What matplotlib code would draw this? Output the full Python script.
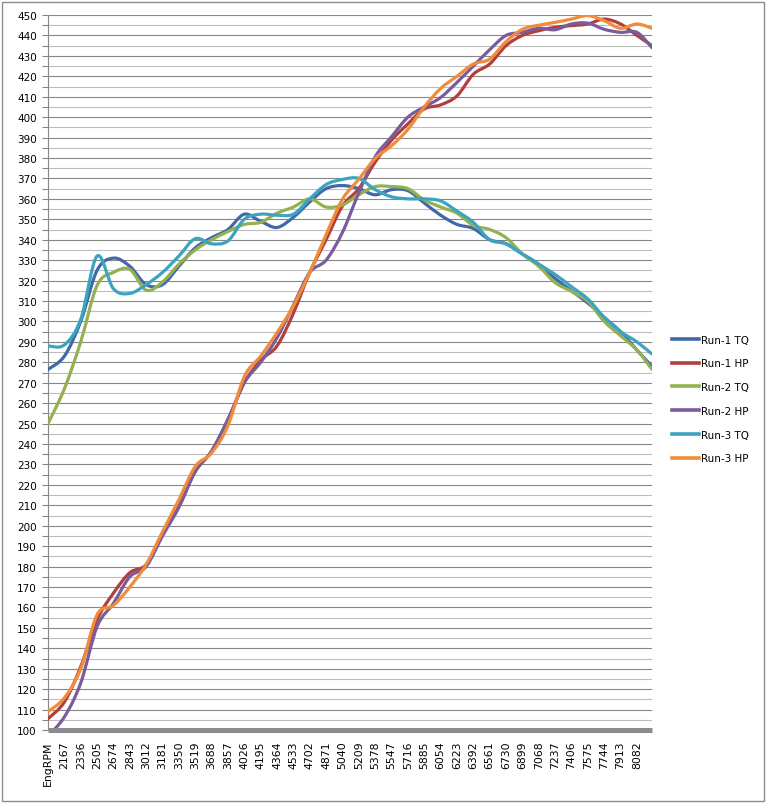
import numpy as np
import matplotlib
matplotlib.use("Agg")
import matplotlib.pyplot as plt
from matplotlib.path import Path
from matplotlib.patches import PathPatch, Rectangle
from matplotlib.lines import Line2D
from matplotlib.ticker import MultipleLocator

# ---------------- data ----------------
rpm = [1998, 2167, 2336, 2505, 2674, 2843, 3012, 3181, 3350, 3519, 3688, 3857,
       4026, 4195, 4364, 4533, 4702, 4871, 5040, 5209, 5378, 5547, 5716, 5885,
       6054, 6223, 6392, 6561, 6730, 6899, 7068, 7237, 7406, 7575, 7744, 7913,
       8082, 8238]
tick_labels = ["EngRPM", "2167", "2336", "2505", "2674", "2843", "3012", "3181",
               "3350", "3519", "3688", "3857", "4026", "4195", "4364", "4533",
               "4702", "4871", "5040", "5209", "5378", "5547", "5716", "5885",
               "6054", "6223", "6392", "6561", "6730", "6899", "7068", "7237",
               "7406", "7575", "7744", "7913", "8082"]

run1_tq = [276.5, 283, 300, 325, 331, 327, 318, 318, 327, 336, 341, 345,
           352.5, 349, 346, 351, 358.5, 365, 366.5, 365, 362, 364.5, 364, 358,
           352, 347.5, 345.5, 340, 338, 333, 328, 321, 315, 309, 302, 295,
           286, 278]
run1_hp = [105.5, 113.7, 131, 154, 167, 177, 181, 196, 209.5, 226.5, 236.5, 252,
           270, 281, 288, 304, 324, 340, 356.5, 365, 378, 388.7, 396.7, 404,
           406, 410.4, 421, 426, 435, 440, 442.3, 444, 444.8, 445.6, 448, 445.6,
           440, 435]
run2_tq = [250, 267, 290, 317.6, 324, 325.5, 315.3, 319.3, 328, 335, 340, 344,
           347.5, 348.5, 353, 356, 360, 356, 357, 362, 366, 366, 365, 359.5,
           356, 353, 347, 345, 341, 333, 327, 319, 314.7, 309.8, 300, 293,
           286, 276.5]
run2_hp = [97, 106.4, 123, 150.6, 162, 175, 180, 195, 209, 226.5, 236.5, 252,
           270, 280, 292, 308, 324, 330, 343.6, 363, 380.6, 390.4, 400, 405,
           409.6, 417, 425, 433, 440, 441.5, 443.5, 442.8, 445.6, 446, 443, 441.5,
           441.5, 434]
run3_tq = [288, 288.5, 301, 332, 316, 313.7, 318, 324, 332, 340.5, 338, 339.4,
           350, 352.5, 352, 352.5, 360, 367, 369.5, 370, 364.5, 361, 360, 360,
           359, 354, 348.5, 340, 338, 333, 328, 323, 317, 311, 302, 295,
           290, 284]
run3_hp = [109, 115.7, 130, 156.4, 161, 170, 181, 197, 212.7, 229, 235.6, 249,
           273, 283, 294.5, 307.6, 324, 342.5, 359.8, 369.6, 379.8, 386, 394, 405,
           414, 420, 426, 428.4, 437, 443, 445, 446.4, 448, 449.7, 447.2, 443.5,
           445.6, 443.5]

series_names = ["Run-1 TQ", "Run-1 HP", "Run-2 TQ", "Run-2 HP", "Run-3 TQ", "Run-3 HP"]
series_values = [run1_tq, run1_hp, run2_tq, run2_hp, run3_tq, run3_hp]
colors = ["#4169A8", "#B1403C", "#93B151", "#7A5C9C", "#3DA4C0", "#F08C3A"]

# ---------------- figure ----------------
W, H = 767, 804
fig = plt.figure(figsize=(W / 100, H / 100), dpi=100)
fig.patch.set_facecolor("white")
ax = fig.add_axes([48 / W, 1 - 731 / H, (652 - 48) / W, (731 - 16) / H])


def smooth_path(xs, ys):
    pts = np.column_stack([np.asarray(xs, float), np.asarray(ys, float)])
    n = len(pts)
    verts = [pts[0]]
    codes = [Path.MOVETO]
    for i in range(n - 1):
        p0 = pts[i - 1] if i > 0 else pts[i]
        p1 = pts[i]
        p2 = pts[i + 1]
        p3 = pts[i + 2] if i + 2 < n else pts[i + 1]
        c1 = p1 + (p2 - p0) / 6.0
        c2 = p2 - (p3 - p1) / 6.0
        verts += [c1, c2, p2]
        codes += [Path.CURVE4] * 3
    return Path(verts, codes)


handles = []
for name, vals, col in zip(series_names, series_values, colors):
    patch = PathPatch(smooth_path(rpm, vals), fill=False, edgecolor=col,
                      lw=2.3, capstyle="round", joinstyle="round",
                      transform=ax.transData, zorder=3)
    ax.add_patch(patch)
    handles.append(Line2D([0], [0], color=col, lw=2.6, label=name))

ax.set_xlim(rpm[0], rpm[-1])
ax.set_ylim(100, 450)

ax.yaxis.set_major_locator(MultipleLocator(10))
ax.yaxis.set_minor_locator(MultipleLocator(5))
ax.grid(which="major", axis="y", color="#878787", lw=0.8, zorder=0)
ax.grid(which="minor", axis="y", color="#bdbdbd", lw=0.8, zorder=0)
ax.set_axisbelow(True)

ax.set_xticks(rpm[:len(tick_labels)])
ax.set_xticklabels(tick_labels, rotation=90,
                   family=["Liberation Sans Narrow", "DejaVu Sans"], fontsize=7.8)
ax.tick_params(axis="x", length=0, pad=7.5)
ax.tick_params(axis="y", which="both", direction="out", length=4,
               color="#878787", width=0.8, labelsize=7.5, pad=4)

for s in ["top", "right"]:
    ax.spines[s].set_visible(False)
ax.spines["left"].set_color("#878787")
ax.spines["left"].set_linewidth(0.8)
ax.spines["bottom"].set_color("#8c8c8c")
ax.spines["bottom"].set_linewidth(3.6)
ax.spines["bottom"].set_capstyle("butt")
ax.spines["bottom"].set_zorder(4)

fig.legend(handles=handles, loc="center left",
           bbox_to_anchor=(672 / W, 1 - 400 / H), frameon=False,
           fontsize=7.5, handlelength=2.6, handletextpad=0.2,
           labelspacing=1.32, borderpad=0, borderaxespad=0)

fig.patches.append(Rectangle((2 / W, 2 / H), 762 / W, 799 / H, transform=fig.transFigure,
                             fill=False, edgecolor="#8c8c8c", lw=1.0))

fig.savefig("out.png", dpi=100)
